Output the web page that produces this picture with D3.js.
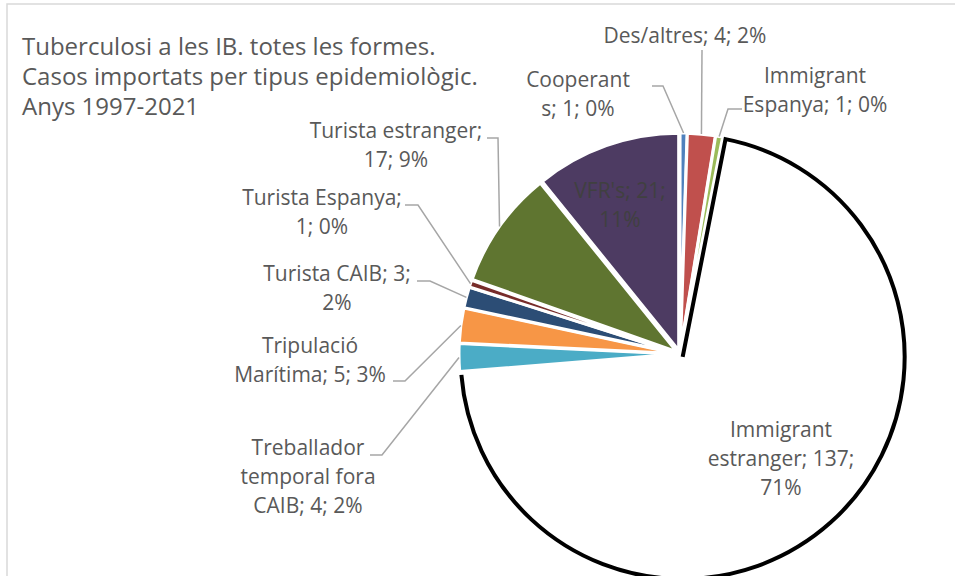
<!DOCTYPE html>
<html>
<head>
<meta charset="utf-8">
<script src="https://cdn.jsdelivr.net/npm/d3@7"></script>
<style>
  body { margin: 0; background: #fff; }
  svg { display: block; font-family: "Open Sans", sans-serif; }
</style>
</head>
<body>
<svg id="chart"></svg>
<script>
// data
const categories = ["Cooperants", "Des/altres", "Immigrant Espanya", "Immigrant estranger",
  "Treballador temporal fora CAIB", "Tripulació Marítima", "Turista CAIB",
  "Turista Espanya", "Turista estranger", "VFR's"];
const cases = [1, 4, 1, 137, 4, 5, 3, 1, 17, 21];
const titleLines = ["Tuberculosi a les IB. totes les formes.",
  "Casos importats per tipus epidemiològic.", "Anys 1997-2021"];

// styles
const colors = ["#4F81BD", "#C0504D", "#9BBB59", "#FFFFFF", "#4BACC6",
  "#F79646", "#2C4D75", "#772C2A", "#5F7530", "#4D3B62"];

// hand placed labels (Excel style): center x, first baseline, line breaks, leader elbow
const labelLayout = {
  "Cooperants": { x: 578, y: 87, breaks: [9], lead: [[652, 86], [663, 86]] },
  "Des/altres": { x: 685, y: 43, breaks: [], lead: [[702, 50]] },
  "Immigrant Espanya": { x: 815, y: 83, breaks: [10], lead: [[742, 109], [728, 109]] },
  "Immigrant estranger": { x: 781, y: 437, breaks: [10, 26], lead: null },
  "Treballador temporal fora CAIB": { x: 308, y: 455, breaks: [12, 26], lead: [[370, 455], [382, 455]] },
  "Tripulació Marítima": { x: 310, y: 353, breaks: [11], lead: [[393, 381], [405, 381]] },
  "Turista CAIB": { x: 337, y: 281, breaks: [17], lead: [[417, 281], [430, 281]] },
  "Turista Espanya": { x: 322, y: 205, breaks: [17], lead: [[405, 205], [418, 205]] },
  "Turista estranger": { x: 396, y: 138, breaks: [19], lead: [[487, 138], [498, 138]] },
  "VFR's": { x: 620, y: 198, breaks: [11], lead: null, fill: "#404040" }
};

const width = 955, height = 576;
const cx = 680, cy = 354;
const radius = 217, bigRadius = 222, explode = 4;
const lineH = 29;

const svg = d3.select("#chart").attr("width", width).attr("height", height);

svg.append("rect").attr("width", width).attr("height", height).attr("fill", "#fff");
svg.append("rect")
  .attr("x", 7).attr("y", 4).attr("width", width + 20).attr("height", height + 20)
  .attr("fill", "none").attr("stroke", "#d9d9d9").attr("stroke-width", 1.5);

svg.append("g").selectAll("text")
  .data(titleLines).enter().append("text")
  .attr("x", 22).attr("y", (d, i) => 55 + i * 30)
  .attr("font-size", 24).attr("fill", "#595959")
  .text(d => d);

const data = categories.map((c, i) => ({ name: c, value: cases[i], color: colors[i] }));
const total = d3.sum(cases);

// Excel rounds pie percentages so they add up to 100 (largest remainder)
const raw = cases.map(v => v / total * 100);
const pct = raw.map(Math.floor);
let left = 100 - d3.sum(pct);
d3.range(raw.length).sort((a, b) => (raw[b] - pct[b]) - (raw[a] - pct[a]))
  .forEach(i => { if (left > 0) { pct[i]++; left--; } });
data.forEach((d, i) => d.pct = pct[i]);

const pie = d3.pie().sort(null).value(d => d.value);
const arcs = pie(data);

const offset = a => {
  const m = (a.startAngle + a.endAngle) / 2;
  return [cx + explode * Math.sin(m), cy - explode * Math.cos(m)];
};
const rOf = d => d.data.name === "Immigrant estranger" ? bigRadius : radius;

const pieG = svg.append("g");
const big = arcs.filter(d => d.data.name === "Immigrant estranger");
const small = arcs.filter(d => d.data.name !== "Immigrant estranger");

pieG.selectAll("path.slice")
  .data(small).enter().append("path")
  .attr("class", "slice")
  .attr("transform", d => `translate(${offset(d)})`)
  .attr("d", d => d3.arc().innerRadius(0).outerRadius(rOf(d))(d))
  .attr("fill", d => d.data.color)
  .attr("stroke", "#fff").attr("stroke-width", 3).attr("stroke-linejoin", "round");

big.forEach(d => {
  const [ox, oy] = offset(d);
  const R = rOf(d);
  const g = pieG.append("g").attr("transform", `translate(${ox},${oy})`);
  g.append("path")
    .attr("d", d3.arc().innerRadius(0).outerRadius(R)(d))
    .attr("fill", d.data.color)
    .attr("stroke", "#fff").attr("stroke-width", 3);
  // black outline: first radius and the arc, as in the original
  const p = d3.path();
  p.moveTo(0, 0);
  p.lineTo(R * Math.sin(d.startAngle), -R * Math.cos(d.startAngle));
  p.arc(0, 0, R, d.startAngle - Math.PI / 2, d.endAngle - Math.PI / 2);
  g.append("path").attr("d", p.toString())
    .attr("fill", "none").attr("stroke", "#000").attr("stroke-width", 4)
    .attr("stroke-linejoin", "miter");
});

// labels
const labelG = svg.append("g");
arcs.forEach(d => {
  const lay = labelLayout[d.data.name];
  const txt = `${d.data.name}; ${d.data.value}; ${d.data.pct}%`;
  const cuts = [0, ...lay.breaks, txt.length];
  const lines = d3.pairs(cuts).map(([a, b]) => txt.slice(a, b).trim());

  if (lay.lead) {
    const [ox, oy] = offset(d);
    const tip = d3.arc().innerRadius(rOf(d)).outerRadius(rOf(d)).centroid(d);
    const pts = [...lay.lead, [tip[0] + ox, tip[1] + oy]];
    labelG.append("path")
      .attr("d", d3.line()(pts))
      .attr("fill", "none").attr("stroke", "#a6a6a6").attr("stroke-width", 1.5);
  }

  labelG.append("text")
    .attr("text-anchor", "middle")
    .attr("font-size", 21)
    .attr("fill", lay.fill || "#595959")
    .selectAll("tspan").data(lines).enter().append("tspan")
    .attr("x", lay.x).attr("y", (l, i) => lay.y + i * lineH)
    .text(l => l);
});
</script>
</body>
</html>
